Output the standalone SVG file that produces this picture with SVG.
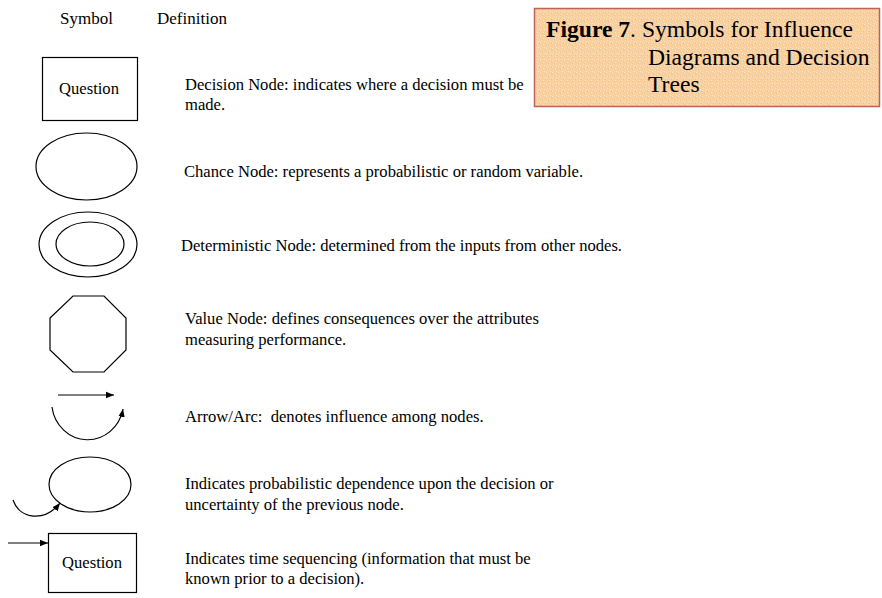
<svg xmlns="http://www.w3.org/2000/svg" width="882" height="598" viewBox="0 0 882 598">
  <style>
    .t { font-family: "Liberation Serif", "Times New Roman", serif; font-size: 16.6px; fill: #000; }
    .h { font-family: "Liberation Serif", "Times New Roman", serif; font-size: 17px; fill: #000; }
    .ttl { font-family: "Liberation Serif", "Times New Roman", serif; font-size: 23.6px; fill: #000; }
    .shape { fill: none; stroke: #000; stroke-width: 1.2; }
    .line { fill: none; stroke: #000; stroke-width: 1.2; }
  </style>
  <defs>
    <marker id="arr" viewBox="0 0 10 10" refX="10" refY="5" markerWidth="8" markerHeight="8" orient="auto" markerUnits="userSpaceOnUse">
      <path d="M0,1 L10,5 L0,9 z" fill="#000"/>
    </marker>
    <pattern id="grain" width="6" height="6" patternUnits="userSpaceOnUse">
      <rect width="6" height="6" fill="#f8cf9f"/>
      <rect x="0" y="0" width="1" height="1" fill="#fde6c8"/>
      <rect x="3" y="2" width="1" height="1" fill="#fde6c8"/>
      <rect x="1" y="4" width="1" height="1" fill="#fbdcb6"/>
      <rect x="4" y="5" width="1" height="1" fill="#fde6c8"/>
      <rect x="5" y="1" width="1" height="1" fill="#f3c28c"/>
      <rect x="2" y="3" width="1" height="1" fill="#f3c28c"/>
    </pattern>
  </defs>

  <!-- column headings -->
  <text class="h" x="60" y="24">Symbol</text>
  <text class="h" x="157" y="24">Definition</text>

  <!-- caption box -->
  <g id="caption">
    <rect x="534.5" y="8.5" width="345" height="98" fill="url(#grain)" stroke="#c0625c" stroke-width="1.5"/>
    <text class="ttl" x="546" y="37"><tspan font-weight="bold">Figure 7</tspan>. Symbols for Influence</text>
    <text class="ttl" x="648" y="65">Diagrams and Decision</text>
    <text class="ttl" x="648" y="92">Trees</text>
  </g>

  <!-- decision node -->
  <g id="decision">
    <rect class="shape" x="42.5" y="57.5" width="95" height="63"/>
    <text class="t" x="89" y="94" text-anchor="middle">Question</text>
    <text class="t" x="185" y="90">Decision Node: indicates where a decision must be</text>
    <text class="t" x="185" y="110">made.</text>
  </g>

  <!-- chance node -->
  <g id="chance">
    <ellipse class="shape" cx="86.5" cy="166.5" rx="50.5" ry="33.5"/>
    <text class="t" x="184" y="177">Chance Node: represents a probabilistic or random variable.</text>
  </g>

  <!-- deterministic node -->
  <g id="deterministic">
    <ellipse class="shape" cx="88" cy="244.5" rx="49" ry="32.5"/>
    <ellipse class="shape" cx="90" cy="244" rx="34" ry="22"/>
    <text class="t" x="181" y="251">Deterministic Node: determined from the inputs from other nodes.</text>
  </g>

  <!-- value node -->
  <g id="value">
    <polygon class="shape" points="73,296 104,296 126,318 126,350 104,372 73,372 50,350 50,318"/>
    <text class="t" x="185" y="324">Value Node: defines consequences over the attributes</text>
    <text class="t" x="185" y="345">measuring performance.</text>
  </g>

  <!-- arrow / arc -->
  <g id="arrow-arc">
    <text class="t" x="185" y="422" xml:space="preserve">Arrow/Arc:  denotes influence among nodes.</text>
  </g>

  <!-- probabilistic dependence -->
  <g id="dependence">
    <ellipse class="shape" cx="90" cy="484.5" rx="41" ry="27.5"/>
    <text class="t" x="185" y="489">Indicates probabilistic dependence upon the decision or</text>
    <text class="t" x="185" y="510">uncertainty of the previous node.</text>
  </g>

  <!-- time sequencing -->
  <g id="sequence">
    <rect class="shape" x="48.5" y="533.5" width="88" height="59"/>
    <text class="t" x="92" y="568" text-anchor="middle">Question</text>
    <text class="t" x="185" y="564">Indicates time sequencing (information that must be</text>
    <text class="t" x="185" y="584">known prior to a decision).</text>
  </g>

  <!-- connectors -->
  <g id="connectors">
    <line class="line" x1="58" y1="395" x2="114" y2="395" marker-end="url(#arr)"/>
    <path class="line" d="M52,407 A36,38 0 0 0 123,409" marker-end="url(#arr)"/>
    <path class="line" d="M13,500 C20,520 45,522 60,503" marker-end="url(#arr)"/>
    <line class="line" x1="8" y1="543" x2="48" y2="543" marker-end="url(#arr)"/>
  </g>
</svg>
